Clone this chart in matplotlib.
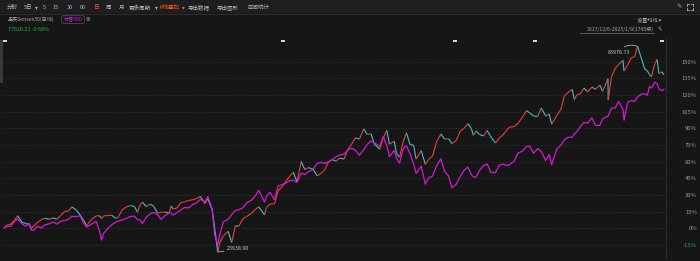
import matplotlib
matplotlib.use('Agg')
import matplotlib.pyplot as plt
import matplotlib.dates as mdates
import numpy as np
import pandas as pd
from matplotlib.collections import LineCollection
from matplotlib.patches import Rectangle, FancyBboxPatch
from matplotlib.lines import Line2D

plt.rcParams['font.family'] = ['Noto Sans CJK SC', 'DejaVu Sans']

# ---- data ----
dates = [
    '2017-12-06', '2017-12-15', '2018-01-01', '2018-01-15', '2018-01-29', '2018-02-15', '2018-03-01',
    '2018-03-15', '2018-03-23', '2018-04-02', '2018-04-16', '2018-05-02', '2018-05-15', '2018-06-01',
    '2018-06-15', '2018-07-02', '2018-07-16', '2018-08-01', '2018-08-16', '2018-08-29', '2018-09-14',
    '2018-10-01', '2018-10-15', '2018-10-26', '2018-11-15', '2018-12-03', '2018-12-17', '2018-12-24',
    '2019-01-01', '2019-01-15', '2019-02-01', '2019-02-18', '2019-03-01', '2019-03-15', '2019-04-01',
    '2019-04-16', '2019-05-02', '2019-05-14', '2019-05-24', '2019-06-03', '2019-06-17', '2019-07-01',
    '2019-07-16', '2019-08-01', '2019-08-14', '2019-08-30', '2019-09-16', '2019-09-23', '2019-10-01',
    '2019-10-15', '2019-11-01', '2019-11-15', '2019-12-02', '2019-12-16', '2020-01-01', '2020-01-16',
    '2020-02-03', '2020-02-14', '2020-03-02', '2020-03-12', '2020-03-24', '2020-04-01', '2020-04-15',
    '2020-05-04', '2020-05-18', '2020-06-01', '2020-06-15', '2020-07-01', '2020-07-15', '2020-08-03',
    '2020-08-17', '2020-09-01', '2020-09-24', '2020-10-01', '2020-10-15', '2020-11-02', '2020-11-16',
    '2020-12-01', '2020-12-15', '2021-01-01', '2021-01-15', '2021-01-29', '2021-02-15', '2021-03-01',
    '2021-03-15', '2021-04-01', '2021-04-19', '2021-05-03', '2021-05-17', '2021-06-01', '2021-06-15',
    '2021-07-01', '2021-07-15', '2021-08-02', '2021-08-16', '2021-09-01', '2021-09-16', '2021-10-01',
    '2021-10-18', '2021-11-01', '2021-11-16', '2021-11-29', '2021-12-20', '2022-01-03', '2022-01-17',
    '2022-01-27', '2022-02-15', '2022-02-24', '2022-03-08', '2022-03-22', '2022-04-04', '2022-04-18',
    '2022-05-02', '2022-05-12', '2022-06-01', '2022-06-17', '2022-07-01', '2022-07-15', '2022-08-01',
    '2022-08-17', '2022-09-01', '2022-09-16', '2022-09-30', '2022-10-17', '2022-11-01', '2022-11-15',
    '2022-12-01', '2022-12-15', '2022-12-23', '2023-01-02', '2023-01-16', '2023-02-01', '2023-02-15',
    '2023-03-01', '2023-03-20', '2023-04-03', '2023-04-17', '2023-05-02', '2023-05-15', '2023-06-01',
    '2023-06-16', '2023-07-03', '2023-07-19', '2023-08-01', '2023-08-16', '2023-09-01', '2023-09-15',
    '2023-10-03', '2023-10-16', '2023-10-26', '2023-11-15', '2023-12-01', '2023-12-15', '2023-12-28',
    '2024-01-15', '2024-01-23', '2024-02-01', '2024-02-15', '2024-03-01', '2024-03-15', '2024-04-01',
    '2024-04-15', '2024-05-02', '2024-05-13', '2024-06-03', '2024-06-04', '2024-06-17', '2024-07-01',
    '2024-07-15', '2024-08-01', '2024-08-05', '2024-08-19', '2024-09-02', '2024-09-16', '2024-09-27',
    '2024-10-15', '2024-10-25', '2024-11-05', '2024-11-13', '2024-11-21', '2024-12-04', '2024-12-13',
    '2024-12-20', '2025-01-01', '2025-01-09',
]

sensex = [
    32597, 33463, 33812, 34843, 36283, 34297, 34046,
    33686, 32596, 33255, 34305, 35176, 35543, 35227,
    35622, 35264, 36324, 37521, 37663, 38896, 38090,
    36526, 34865, 33349, 35260, 36241, 36270, 35470,
    36254, 36318, 36469, 35498, 36063, 38024, 38871,
    39275, 38981, 37318, 39434, 40268, 38960, 39686,
    39131, 37018, 37311, 37333, 37123, 39090, 38305,
    38506, 40165, 40356, 40802, 40939, 41306, 41932,
    39872, 41257, 38144, 32778, 25638.90, 28265, 30380,
    31715, 28440, 33303, 33228, 35414, 36051, 36940,
    38050, 38900, 36553, 38697, 39728, 39757, 43637,
    44655, 46263, 47868, 49034, 46285, 52154, 49849,
    50395, 50029, 47949, 48718, 49580, 51934, 52773,
    52318, 53158, 52950, 55582, 57338, 59141, 58765,
    61765, 60138, 60322, 57260, 55822, 59183, 61308,
    57276, 58142, 54530, 53424, 57989, 60611, 57166,
    56975, 52930, 55381, 51360, 52907, 53760, 58115,
    60260, 58766, 58840, 57427, 58410, 61121, 61873,
    63284, 61799, 59845, 61168, 60092, 59708, 61275,
    59411, 57629, 59106, 59911, 61354, 62345, 62428,
    63384, 65205, 67097, 66459, 65539, 65387, 67838,
    65512, 66167, 63148, 65675, 67481, 71483, 72410,
    73327, 70370, 71645, 72050, 73745, 72643, 74014,
    73399, 74611, 72776, 76469, 70234, 76992, 79476,
    80664, 81867, 78759, 80424, 82559, 82988, 85976.73,
    81820, 79402, 78782, 77690, 77156, 80956, 82133,
    78041, 78507, 77620.21,
]

spx = [
    2629, 2676, 2674, 2786, 2853, 2731, 2678,
    2747, 2588, 2582, 2677, 2636, 2711, 2735,
    2780, 2727, 2798, 2813, 2840, 2914, 2905,
    2924, 2750, 2659, 2730, 2790, 2545, 2351,
    2507, 2610, 2707, 2775, 2804, 2822, 2867,
    2907, 2918, 2834, 2826, 2744, 2889, 2964,
    3004, 2953, 2840, 2926, 2997, 2991, 2940,
    2995, 3067, 3120, 3113, 3191, 3231, 3316,
    3249, 3380, 3090, 2481, 2237, 2470, 2783,
    2843, 2954, 3055, 3066, 3115, 3227, 3295,
    3382, 3527, 3246, 3381, 3483, 3310, 3627,
    3662, 3694, 3756, 3768, 3714, 3934, 3901,
    3968, 4019, 4163, 4192, 4163, 4202, 4246,
    4320, 4360, 4387, 4479, 4524, 4473, 4357,
    4486, 4613, 4700, 4655, 4568, 4796, 4577,
    4326, 4471, 4288, 4170, 4511, 4582, 4391,
    4155, 3930, 4101, 3675, 3825, 3863, 4118,
    4274, 3966, 3873, 3586, 3678, 3856, 3992,
    4077, 3896, 3845, 3840, 3999, 4119, 4148,
    3951, 3951, 4124, 4151, 4119, 4136, 4221,
    4409, 4455, 4565, 4576, 4404, 4516, 4450,
    4229, 4373, 4137, 4502, 4595, 4719, 4783,
    4784, 4864, 4906, 5030, 5137, 5117, 5243,
    5061, 5064, 5221, 5283, 5291, 5473, 5475,
    5631, 5446, 5186, 5608, 5648, 5633, 5738,
    5815, 5808, 5782, 5985, 5948, 6086, 6051,
    5930, 5882, 5918,
]

event_dates = ['2017-12-10', '2020-12-04', '2022-10-13', '2023-08-22', '2025-01-01']
pct_ticks = list(range(-15, 151, 15))
last_change = -0.68

toolbar = [(7, '分时'), (24, '5日'), (35, '▾'), (43, '5'), (53, '15'), (67, '30'),
           (80, '60'), (93, '日'), (106, '周'), (119, '月'), (129, '更多周期'), (155, '▾'),
           (159, 'K线叠加'), (182, '▾'), (188, '导出数据'), (217, '导出图形'), (247, '区间统计')]
orange_items = {93, 159, 182}

# ---- figure ----
W, H = 700, 261
BG = '#161616'
fig = plt.figure(figsize=(7, 2.61), dpi=100, facecolor=BG)


def fx(x):
    return x / W


def fy(y):
    return 1 - y / H


# toolbar band
fig.patches.append(Rectangle((0, fy(13)), 1, 13 / H, transform=fig.transFigure,
                             facecolor='#1e1e20', edgecolor='none'))
fig.add_artist(Line2D([0, 1], [fy(13.5)] * 2, transform=fig.transFigure, color='#2c2c2c', lw=0.8))
for x, s in toolbar:
    col = '#ff5a1f' if x in orange_items else '#b8b8b8'
    fig.text(fx(x), fy(7.5), s, fontsize=4, color=col, va='center', ha='left')
fig.text(fx(679), fy(7), '✎', fontsize=4.5, color='#b0b0b0', va='center', ha='center',
         family='DejaVu Sans')
# expand icon corners
for cx, cy, dx, dy in [(687, 4, 1, 1), (693, 4, -1, 1), (687, 10, 1, -1), (693, 10, -1, -1)]:
    fig.add_artist(Line2D([fx(cx), fx(cx + 2 * dx)], [fy(cy)] * 2, transform=fig.transFigure,
                          color='#b0b0b0', lw=0.6))
    fig.add_artist(Line2D([fx(cx)] * 2, [fy(cy), fy(cy + 2 * dy)], transform=fig.transFigure,
                          color='#b0b0b0', lw=0.6))

# header
fig.text(fx(8), fy(19.5), '孟买Sensex30(日线)', fontsize=3.7, color='#a8a8a8', va='center')
fig.patches.append(FancyBboxPatch((fx(61.5), fy(23.5)), 23 / W, 8 / H, transform=fig.transFigure,
                                  boxstyle='round,pad=0,rounding_size=0.006',
                                  facecolor='none', edgecolor='#4a4a4a', lw=0.6))
fig.text(fx(73), fy(19.5), '标普500', fontsize=3.7, color='#d41ad4', va='center', ha='center')
fig.text(fx(88), fy(19.5), '⊗', fontsize=4, color='#9a9a9a', va='center', ha='center',
         family='DejaVu Sans')
fig.text(fx(8), fy(29.5), f'{sensex[-1]:.2f} {last_change:.2f}%', fontsize=3.9, color='#21b04b',
         va='center')
fig.text(fx(661), fy(19.5), '设置均线 ▾', fontsize=3.7, color='#b0b0b0', va='center', ha='right')
fig.text(fx(654), fy(29.5), '2017/12/6-2025/1/9(1745根)', fontsize=3.7, color='#a8a8a8',
         va='center', ha='right')
fig.add_artist(Line2D([fx(580), fx(654)], [fy(33)] * 2, transform=fig.transFigure,
                      color='#8a8a8a', lw=0.4))
fig.text(fx(660), fy(29.5), '✎', fontsize=4, color='#a8a8a8', va='center', ha='center',
         family='DejaVu Sans')

# left scroll bar
fig.patches.append(Rectangle((0, fy(83)), 2.5 / W, 43 / H, transform=fig.transFigure,
                             facecolor='#3a3a3a', edgecolor='none'))

# ---- main axes ----
ax = fig.add_axes([fx(3), fy(258), (666 - 3) / W, (258 - 38) / H])
ax.set_facecolor(BG)

t = mdates.date2num(pd.to_datetime(dates))
s_pct = (np.array(sensex) / sensex[0] - 1) * 100
p_pct = (np.array(spx) / spx[0] - 1) * 100

k = (664 - 4) / (t[-1] - t[0])
ax.set_xlim(t[0] - 1 / k, t[-1] + 2 / k)
ax.set_ylim((228.3 - 258) / 1.111, (228.3 - 38) / 1.111)

for v in pct_ticks:
    ax.axhline(v, color='#2e2e2e', lw=0.6, ls=(0, (1.5, 1.5)), zorder=0)

pts = np.column_stack([t, s_pct])
segs = np.stack([pts[:-1], pts[1:]], axis=1)
cols = ['#e8413c' if b >= a else '#3cc4c6' for a, b in zip(s_pct[:-1], s_pct[1:])]
ax.add_collection(LineCollection(segs, colors=cols, linewidths=0.8, zorder=2))
ax.plot(t, p_pct, color='#d41ad4', lw=0.9, zorder=3)

# event markers at top (small flat rectangles)
ev = mdates.date2num(pd.to_datetime(event_dates))
flat_box = [(-1, -0.6), (1, -0.6), (1, 0.6), (-1, 0.6), (-1, -0.6)]
ax.scatter(ev, [0.988] * len(ev), transform=ax.get_xaxis_transform(), marker=flat_box, s=9,
           color='#d8d8d8', linewidths=0, zorder=4, clip_on=False)

# annotations
i_lo = int(np.argmin(s_pct))
i_hi = int(np.argmax(s_pct))
ax.annotate(f'{sensex[i_lo]:.2f}', xy=(t[i_lo], s_pct[i_lo]), xytext=(6.5, 2.2),
            textcoords='offset points', fontsize=3.9, color='#c8c8c8', va='center', ha='left',
            arrowprops=dict(arrowstyle='-', color='#c8c8c8', lw=0.5, shrinkA=0, shrinkB=0))
ax.annotate(f'{sensex[i_hi]:.2f}', xy=(t[i_hi], s_pct[i_hi]), xytext=(-5, -4.3),
            textcoords='offset points', fontsize=3.9, color='#c8c8c8', va='center', ha='right',
            arrowprops=dict(arrowstyle='-', color='#c8c8c8', lw=0.5, shrinkA=0, shrinkB=0,
                            connectionstyle='arc3,rad=-0.4'))

ax.yaxis.tick_right()
ax.set_yticks(pct_ticks)
ax.set_yticklabels([f'{v}%' for v in pct_ticks])
ax.tick_params(axis='y', length=0, pad=22.3, labelsize=4.2, labelcolor='#9a9a9a')
for lab in ax.get_yticklabels():
    lab.set_ha('right')
ax.get_yticklabels()[0].set_color('#21b04b')
ax.set_xticks([])
for side in ['top', 'bottom', 'left']:
    ax.spines[side].set_visible(False)
ax.spines['right'].set_color('#2a2a2a')
ax.spines['right'].set_linewidth(0.8)

fig.savefig('out.png', dpi=100, facecolor=BG)
